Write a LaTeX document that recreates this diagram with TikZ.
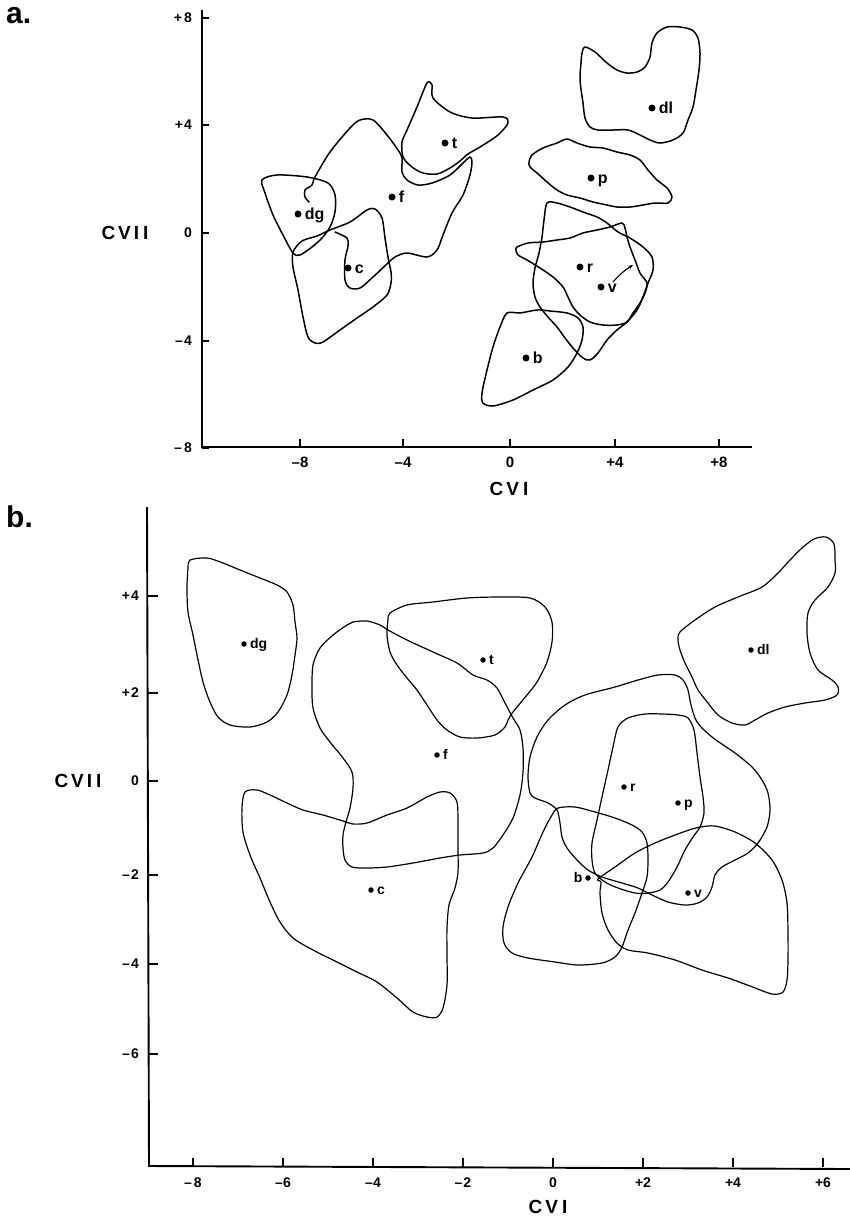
\documentclass[tikz,border=0pt]{standalone}
\usepackage{fontspec}
\setmainfont{Liberation Sans}
\usetikzlibrary{arrows.meta}
\begin{document}
\begin{tikzpicture}[x=1pt,y=-1pt,
  outa/.style={line width=1.5pt,line join=round,line cap=round},
  outb/.style={line width=1.2pt,line join=round,line cap=round},
  axisline/.style={line width=1.9pt},
  tickline/.style={line width=1.4pt},
  dota/.style={circle,fill,inner sep=0pt,minimum size=7pt},
  dotb/.style={circle,fill,inner sep=0pt,minimum size=5.5pt},
  laba/.style={font=\fontsize{16}{16}\selectfont\bfseries,inner sep=0pt,anchor=base west},
  labb/.style={font=\fontsize{14}{14}\selectfont\bfseries,inner sep=0pt,anchor=base west},
  ticklab/.style={font=\fontsize{14}{14}\selectfont\bfseries,inner sep=0pt},
  xticklab/.style={font=\fontsize{15}{15}\selectfont\bfseries,inner sep=0pt},
  axlab/.style={font=\fontsize{19}{19}\selectfont\bfseries,inner sep=0pt},
  panlab/.style={font=\fontsize{30}{30}\selectfont\bfseries,inner sep=0pt,anchor=base west},
]
\useasboundingbox (0,0) rectangle (850,1221);

% ================= PANEL A =================
\node[panlab] (pa) at (6,23) {a.};
\draw[axisline] (202,10) -- (202,447) -- (752,447);
\foreach \yy/\lab in {17.8/{+\kern2pt8},125/{+\kern1pt4},233/{0},341/{–\kern1pt4},448/{–\kern2pt8}}{
  \draw[tickline] (202,\yy) -- (209,\yy);
  \node[ticklab,anchor=east] at (192,\yy) {\lab};
}
\foreach \xx/\lab in {300/{–8},403/{–4},510/{0},615/{+4},719/{+8}}{
  \draw[tickline] (\xx,447) -- (\xx,439);
  \node[xticklab] at (\xx,462) {\lab};
}
\node[axlab] (acvii) at (125,233) {C\kern3pt V\kern3pt I\kern4pt I};
\node[axlab] (acvi) at (509,489) {C\kern3pt V\kern4pt I};

% shapes a
\draw[outa] plot[smooth cycle,tension=0.5] coordinates {(403,157) (402,142) (407,130) (417,107) (427,83) (432,85) (433,98) (450,112) (472,118) (503,117) (508,123) (498,135) (480,147) (468,154) (460,161) (450,168) (437,174) (423,173) (412,167)};
\draw[outa] plot[smooth,tension=0.5] coordinates {(309,202) (305,197) (305,190) (312,185) (315,177) (330,152) (350,128) (360,120) (373,120) (387,135) (398,150) (402,158) (402,172) (407,180) (418,185) (432,183) (450,175) (463,163) (470,157) (472,162) (470,175) (463,195) (452,213) (443,235) (437,250) (427,257) (407,253) (395,257) (388,263) (373,277) (360,288) (350,288) (345,280) (345,260) (348,246) (347,238) (335,232)};
\draw[outa] plot[smooth cycle,tension=0.5] coordinates {(262,180) (277,175) (307,177) (328,183) (335,195) (335,212) (330,227) (322,238) (312,247) (300,255) (293,253) (283,235) (273,215) (265,193)};
\draw[outa] plot[smooth cycle,tension=0.5] coordinates {(330,230) (350,222) (367,210) (375,209) (382,218) (385,238) (388,257) (391,272) (391,283) (387,295) (373,307) (357,318) (340,330) (323,342) (315,343) (308,337) (303,317) (298,290) (293,267) (293,252) (302,241) (317,236)};
\draw[outa] plot[smooth cycle,tension=0.5] coordinates {(585,47) (595,52) (607,63) (617,70) (627,73) (637,72) (645,67) (650,57) (652,43) (657,33) (667,27) (680,27) (692,30) (698,38) (700,53) (699,70) (696,90) (693,107) (688,120) (683,133) (673,140) (660,143) (650,140) (640,135) (628,130) (613,130) (598,130) (590,127) (585,118) (583,103) (580,80) (581,63) (582,53)};
\draw[outa] plot[smooth cycle,tension=0.5] coordinates {(532,155) (543,148) (557,143) (567,139) (577,143) (590,147) (603,148) (617,152) (630,155) (640,160) (648,170) (657,180) (667,188) (672,197) (668,203) (655,203) (643,205) (630,207) (617,207) (607,205) (593,202) (580,198) (567,195) (557,190) (547,182) (537,173) (530,167) (529,162)};
\draw[outa] plot[smooth cycle,tension=0.5] coordinates {(547,203) (557,203) (570,207) (583,212) (597,217) (607,223) (618,232) (630,238) (643,247) (652,257) (653,270) (648,283) (643,297) (637,310) (627,322) (617,330) (607,340) (598,353) (590,360) (583,358) (573,348) (565,338) (557,327) (548,317) (540,307) (535,297) (533,283) (535,268) (539,253) (542,237) (544,220)};
\draw[outa] plot[smooth cycle,tension=0.5] coordinates {(517,247) (528,243) (543,242) (557,240) (570,238) (583,233) (597,230) (610,227) (622,223) (625,228) (627,237) (630,247) (635,260) (640,273) (647,283) (645,293) (640,303) (633,313) (627,322) (617,325) (603,325) (590,322) (580,315) (573,307) (568,297) (563,287) (553,277) (540,268) (527,260) (518,255) (516,250)};
\draw[outa] plot[smooth cycle,tension=0.5] coordinates {(537,310) (520,313) (507,313) (500,327) (493,347) (487,370) (482,393) (483,403) (493,406) (513,400) (533,390) (553,380) (568,367) (577,353) (582,340) (583,327) (578,318) (567,313) (550,311)};

% dots a
\node[dota] (adg) at (298,214) {};
\node[dota] (af) at (392,197) {};
\node[dota] (at) at (445,143) {};
\node[dota] (ac) at (348,268) {};
\node[dota] (adl) at (652,108) {};
\node[dota] (ap) at (591,178) {};
\node[dota] (ar) at (580,267) {};
\node[dota] (av) at (601,287) {};
\node[dota] (ab) at (526,358) {};
\foreach \n/\t in {adg/dg,af/f,at/t,ac/c,adl/dl,ap/p,ar/r,av/v,ab/b}{
  \node[laba] (\n L) at ([xshift=3pt,yshift=-5pt]\n.east) {\t};
}
\coordinate (arrS) at (613,282);
\coordinate (arrE) at (633,265);
\draw[line width=1.1pt,-{Stealth[length=5pt,width=4pt]}] (arrS) to[bend left=8] (arrE);

% ================= PANEL B =================
\node[panlab] (pb) at (6,527) {b.};
\draw[axisline] (147,507) -- (149,1166) -- (850,1169);
\foreach \yy/\lab in {596/{+\kern1pt4},693/{+\kern1pt2},781/{0},875/{–\kern1pt2},964/{–\kern1pt4},1054/{–\kern1pt6}}{
  \draw[tickline] (148,\yy) -- (158,\yy);
  \node[ticklab,anchor=east] at (139,\yy) {\lab};
}
\foreach \xx/\lab in {193/{–\kern2pt8},283/{–6},373/{–4},463/{–\kern1pt2},553/{0},643/{+2},733/{+4},823/{+6}}{
  \draw[tickline] (\xx,1167) -- (\xx,1158);
  \node[ticklab] at (\xx,1183) {\lab};
}
\node[axlab] (bcvii) at (78,781) {C\kern3pt V\kern3pt I\kern4pt I};
\node[axlab] (bcvi) at (548,1207) {C\kern3pt V\kern4pt I};

% shapes b
\draw[outb] plot[smooth cycle,tension=0.5] coordinates {(190,560) (207,558) (223,563) (240,570) (260,578) (277,585) (287,592) (293,605) (295,622) (297,638) (295,655) (292,675) (287,695) (278,712) (267,722) (250,727) (230,725) (218,717) (210,702) (203,682) (197,655) (193,635) (188,612) (187,588) (188,568)};
\draw[outb] plot[smooth cycle,tension=0.5] coordinates {(390,613) (407,605) (433,602) (467,598) (500,597) (530,598) (545,607) (552,622) (552,642) (547,662) (537,682) (527,695) (513,712) (508,720) (505,727) (495,735) (477,738) (460,737) (447,730) (437,720) (427,705) (417,690) (407,678) (397,665) (390,652) (387,635) (388,620)};
\draw[outb] plot[smooth cycle,tension=0.5] coordinates {(353,622) (367,621) (380,625) (388,630) (407,640) (433,652) (457,663) (473,675) (487,680) (497,688) (505,703) (513,718) (520,730) (523,748) (523,772) (520,795) (513,818) (503,835) (493,848) (483,853) (460,855) (440,858) (413,863) (387,867) (367,868) (352,867) (345,860) (343,848) (343,835) (346,822) (350,808) (353,788) (352,772) (343,758) (330,742) (320,728) (313,708) (312,688) (313,665) (320,648) (333,635) (347,625)};
\draw[outb] plot[smooth cycle,tension=0.5] coordinates {(245,792) (257,790) (270,795) (287,803) (303,810) (323,815) (343,821) (353,824) (367,823) (387,815) (407,808) (427,797) (440,792) (450,793) (457,802) (458,822) (458,848) (458,872) (455,888) (449,905) (447,928) (447,955) (447,985) (443,1008) (437,1017) (427,1017) (413,1012) (397,998) (377,982) (357,972) (337,962) (313,950) (293,938) (280,922) (270,902) (260,878) (250,855) (243,832) (242,808)};
\draw[outb] plot[smooth cycle,tension=0.5] coordinates {(680,632) (695,620) (715,607) (738,597) (762,587) (778,573) (790,560) (802,548) (814,539) (826,537) (834,544) (835,560) (835,573) (828,587) (815,600) (808,613) (807,633) (810,653) (818,670) (832,680) (838,687) (837,695) (825,700) (805,703) (785,707) (768,713) (755,720) (745,725) (732,723) (718,715) (708,703) (698,690) (692,677) (685,663) (680,650) (678,640)};
\draw[outb] plot[smooth cycle,tension=0.5] coordinates {(528,777) (530,757) (537,737) (548,720) (565,705) (585,695) (615,687) (638,680) (658,675) (675,675) (683,680) (688,690) (691,705) (697,722) (712,737) (735,753) (752,767) (762,780) (768,793) (770,810) (767,827) (758,843) (748,853) (735,860) (722,867) (715,875) (712,887) (707,897) (698,903) (685,905) (668,902) (652,895) (638,888) (622,883) (602,877) (588,870) (577,860) (567,848) (562,837) (560,823) (557,810) (548,803) (535,798) (530,793)};
\draw[outb] plot[smooth cycle,tension=0.5] coordinates {(618,727) (628,718) (645,714) (662,714) (678,715) (688,718) (694,730) (697,753) (700,777) (703,797) (704,813) (700,827) (693,837) (685,850) (677,867) (668,882) (660,890) (648,893) (635,893) (618,888) (605,882) (595,873) (592,860) (592,843) (597,820) (602,797) (608,770) (613,747)};
\draw[outb] plot[smooth cycle,tension=0.5] coordinates {(558,808) (575,807) (595,812) (615,818) (632,825) (642,832) (647,843) (648,860) (647,877) (642,893) (635,913) (628,930) (622,947) (615,957) (602,963) (578,965) (555,962) (528,958) (512,953) (504,943) (503,927) (508,907) (518,883) (532,857) (543,832) (552,815)};
\draw[outb] plot[smooth cycle,tension=0.5] coordinates {(598,879) (615,867) (635,853) (655,843) (675,835) (692,829) (700,827) (715,826) (735,832) (755,843) (772,860) (782,880) (787,903) (788,933) (788,960) (787,980) (783,992) (772,994) (750,986) (728,978) (702,970) (675,960) (648,953) (628,950) (617,943) (608,930) (602,913) (600,893) (601,882)};

% dots b
\node[dotb] (bdg) at (244,644) {};
\node[dotb] (bt) at (483,660) {};
\node[dotb] (bf) at (437,755) {};
\node[dotb] (bc) at (371,890) {};
\node[dotb] (bdl) at (751,650) {};
\node[dotb] (br) at (624,787) {};
\node[dotb] (bp) at (678,803) {};
\node[dotb] (bv) at (688,893) {};
\node[dotb] (bb) at (588,878) {};
\foreach \n/\t in {bdg/dg,bt/t,bf/f,bc/c,bdl/dl,br/r,bp/p,bv/v}{
  \node[labb] (\n L) at ([xshift=3pt,yshift=-4.5pt]\n.east) {\t};
}
\node[labb,anchor=base east] (bbL) at ([xshift=-2.5pt,yshift=-4.5pt]bb.west) {b};
\end{tikzpicture}
\end{document}
